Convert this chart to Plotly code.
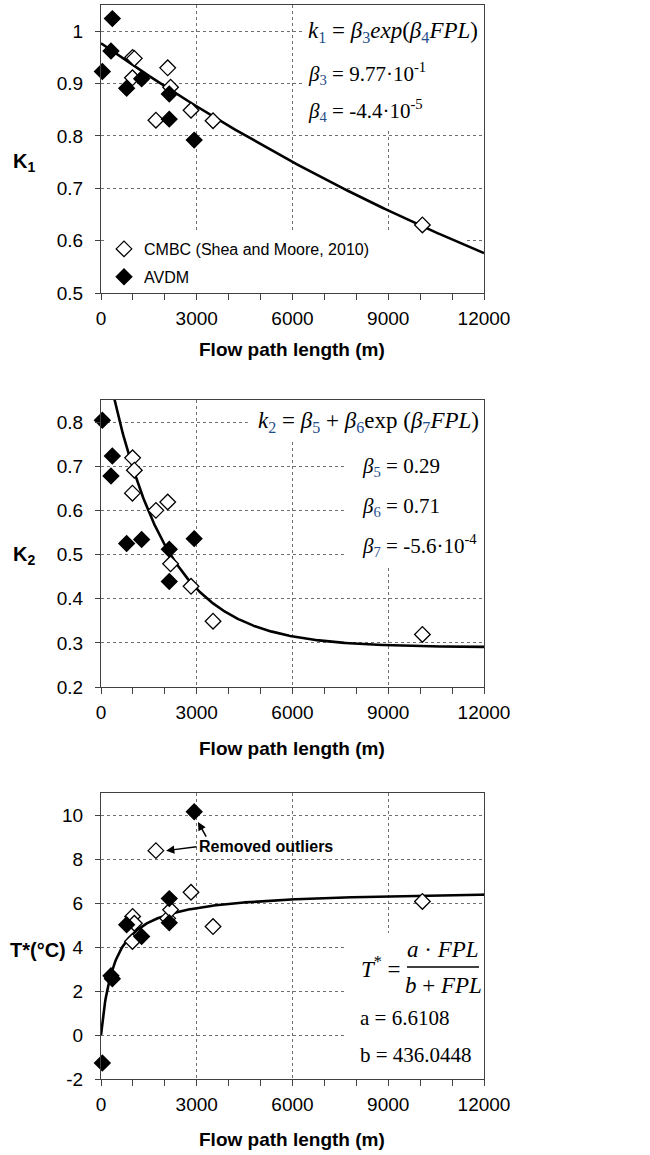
import numpy as np
import plotly.graph_objects as go

W, H = 650, 1155

# ---------------- data ----------------
fpl_cmbc = [990, 1045, 985, 1720, 2090, 2180, 2820, 3510, 10070]
k1_cmbc = [0.950, 0.948, 0.911, 0.830, 0.930, 0.893, 0.849, 0.829, 0.630]
k2_cmbc = [0.719, 0.691, 0.639, 0.600, 0.619, 0.479, 0.428, 0.349, 0.319]
t_cmbc = [5.39, 5.08, 4.25, 8.38, 5.30, 5.69, 6.49, 4.93, 6.07]

fpl_avdm = [42, 355, 313, 803, 1273, 2139, 2139, 2920]
k1_avdm = [0.923, 1.024, 0.962, 0.891, 0.909, 0.880, 0.832, 0.792]
k2_avdm = [0.804, 0.723, 0.678, 0.525, 0.534, 0.512, 0.439, 0.536]
t_avdm = [-1.27, 2.56, 2.69, 5.01, 4.48, 6.20, 5.10, 10.15]

# fitted model parameters (shown on the chart)
beta3, beta4 = 0.977, -4.4e-5
beta5, beta6, beta7 = 0.29, 0.71, -5.6e-4
a_par, b_par = 6.6108, 436.0448

x_ticks = [0, 3000, 6000, 9000, 12000]
x_tick_labels = ["0", "3000", "6000", "9000", "12000"]
k1_ticks = [0.5, 0.6, 0.7, 0.8, 0.9, 1.0]
k1_tick_labels = ["0.5", "0.6", "0.7", "0.8", "0.9", "1"]
k2_ticks = [0.2, 0.3, 0.4, 0.5, 0.6, 0.7, 0.8]
k2_tick_labels = ["0.2", "0.3", "0.4", "0.5", "0.6", "0.7", "0.8"]
t_ticks = [-2, 0, 2, 4, 6, 8, 10]
t_tick_labels = ["-2", "0", "2", "4", "6", "8", "10"]
legend_names = ["CMBC (Shea and Moore, 2010)", "AVDM"]
x_title = "Flow path length (m)"

# ---------------- layout helpers ----------------
def xp(px):
    return px / W

def yp(py):
    return 1 - py / H

X0, X1 = 101, 484
panels = [  # (top px, bottom px, y range, ticks, labels)
    (5, 293, [0.5, 1.05], k1_ticks, k1_tick_labels),
    (400, 687, [0.2, 0.85], k2_ticks, k2_tick_labels),
    (793, 1079, [-2, 11], t_ticks, t_tick_labels),
]

fig = go.Figure()

fpl_curve = np.linspace(0, 12000, 481)
curves = [
    beta3 * np.exp(beta4 * fpl_curve),
    beta5 + beta6 * np.exp(beta7 * fpl_curve),
    a_par * fpl_curve / (b_par + fpl_curve),
]
cmbc_vals = [k1_cmbc, k2_cmbc, t_cmbc]
avdm_vals = [k1_avdm, k2_avdm, t_avdm]

FONT = "Liberation Sans, Arial, sans-serif"
SERIF = "Liberation Serif, Times New Roman, serif"
AXC = "#404040"
GRIDC = "#707070"

for i in range(3):
    sfx = "" if i == 0 else str(i + 1)
    xa, ya = "x" + sfx, "y" + sfx
    fig.add_trace(go.Scatter(
        x=fpl_curve, y=curves[i], mode="lines",
        line=dict(color="black", width=2.6), showlegend=False,
        xaxis=xa, yaxis=ya, hoverinfo="skip"))
    fig.add_trace(go.Scatter(
        x=fpl_cmbc, y=cmbc_vals[i], mode="markers", name=legend_names[0],
        marker=dict(symbol="diamond", size=12, color="white",
                    line=dict(color="black", width=1.3)),
        showlegend=(i == 0), legendgroup="c", cliponaxis=False,
        xaxis=xa, yaxis=ya))
    fig.add_trace(go.Scatter(
        x=fpl_avdm, y=avdm_vals[i], mode="markers", name=legend_names[1],
        marker=dict(symbol="diamond", size=12, color="black",
                    line=dict(color="black", width=1.3)),
        showlegend=(i == 0), legendgroup="a", cliponaxis=False,
        xaxis=xa, yaxis=ya))

layout = dict(
    width=W, height=H, margin=dict(l=0, r=0, t=0, b=0, autoexpand=False),
    paper_bgcolor="white", plot_bgcolor="white",
    font=dict(family=FONT, size=19, color="black"),
    showlegend=True,
    legend=dict(x=xp(104), y=yp(232), xanchor="left", yanchor="top",
                xref="container", yref="container",
                bgcolor="rgba(0,0,0,0)", font=dict(size=16, family=FONT),
                itemwidth=30, tracegroupgap=4),
)
for i, (top, bot, yr, yt, ytl) in enumerate(panels):
    sfx = "" if i == 0 else str(i + 1)
    layout["xaxis" + sfx] = dict(
        domain=[xp(X0), xp(X1)], anchor="y" + sfx, range=[0, 12000],
        tickmode="array", tickvals=x_ticks, ticktext=x_tick_labels,
        ticks="outside", ticklen=6, automargin=False,
        tickcolor=AXC, showline=True, mirror=True, linecolor=AXC, linewidth=1.3,
        showgrid=True, gridcolor=GRIDC, griddash="dot", gridwidth=1,
        zeroline=False, ticklabelstandoff=2,
        tickfont=dict(size=19, family=FONT),
        minor=dict(tick0=0, dtick=1000, ticks="outside", ticklen=6,
                   tickcolor=AXC, showgrid=False),
    )
    layout["yaxis" + sfx] = dict(
        domain=[yp(bot), yp(top)], anchor="x" + sfx, range=yr,
        tickmode="array", tickvals=yt, ticktext=ytl,
        ticks="outside", ticklen=5, automargin=False,
        tickcolor=AXC, showline=True, mirror=True, linecolor=AXC, linewidth=1.3,
        showgrid=True, gridcolor=GRIDC, griddash="dot", gridwidth=1,
        zeroline=False, ticklabelstandoff=8,
        tickfont=dict(size=19, family=FONT),
    )
fig.update_layout(**layout)

# white boxes behind texts (hide gridlines, keep data on top)
boxes = [
    ("x", "y", 6390, 12000, 0.812, 1.05),
    ("x", "y", 130, 11400, 0.5, 0.62),
    ("x2", "y2", 4600, 12000, 0.757, 0.85),
    ("x2", "y2", 7640, 12000, 0.472, 0.757),
    ("x3", "y3", 7700, 12000, -2, 4.64),
]
for xr, yr_, x0, x1, y0, y1 in boxes:
    fig.add_shape(type="rect", xref=xr, yref=yr_, x0=x0, x1=x1, y0=y0, y1=y1,
                  fillcolor="white", line=dict(width=0), layer="between")

def ann(text, x, y, size=21, xanchor="left", family=SERIF, bold=False, color="black"):
    if bold:
        text = "<b>" + text + "</b>"
    fig.add_annotation(text=text, x=xp(x), y=yp(y), xref="paper", yref="paper",
                       showarrow=False, xanchor=xanchor, yanchor="middle",
                       font=dict(size=size, family=family, color=color))

SUBC = "#1f4e8c"
def sub(s):
    return f"<sub><span style='color:{SUBC}'>{s}</span></sub>"

# equations
ann(f"<i>k</i>{sub('1')} = <i>β</i>{sub('3')}<i>exp</i>(<i>β</i>{sub('4')}<i>FPL</i>)", 393, 32, size=23, xanchor="center")
ann(f"<i>β</i>{sub('3')} = 9.77·10<sup>-1</sup>", 306, 73, size=21)
ann(f"<i>β</i>{sub('4')} = -4.4·10<sup>-5</sup>", 306, 110, size=21)

ann(f"<i>k</i>{sub('2')} = <i>β</i>{sub('5')} + <i>β</i>{sub('6')}exp (<i>β</i>{sub('7')}<i>FPL</i>)", 368, 422, size=23, xanchor="center")
ann(f"<i>β</i>{sub('5')} = 0.29", 360, 467, size=21)
ann(f"<i>β</i>{sub('6')} = 0.71", 360, 507, size=21)
ann(f"<i>β</i>{sub('7')} = -5.6·10<sup>-4</sup>", 360, 545, size=21)

ann("<i>T</i><sup>*</sup> =", 403, 967, size=23, xanchor="right")
ann("<i>a</i> · <i>FPL</i>", 443, 949, size=23, xanchor="center")
ann("<i>b</i> + <i>FPL</i>", 443, 985, size=23, xanchor="center")
fig.add_shape(type="line", xref="paper", yref="paper", x0=xp(407), x1=xp(479),
              y0=yp(967), y1=yp(967), line=dict(color="black", width=1.5))
ann("a = 6.6108", 358, 1018, size=21)
ann("b = 436.0448", 358, 1055, size=21)

# axis titles
for ty in [349, 748, 1139]:
    ann(x_title, 292, ty, size=19, xanchor="center", family=FONT, bold=True)
ann("K<sub>1</sub>", 24, 163, size=20, xanchor="center", family=FONT, bold=True)
ann("K<sub>2</sub>", 24, 555, size=20, xanchor="center", family=FONT, bold=True)
ann("T*(°C)", 38, 950, size=20, xanchor="center", family=FONT, bold=True)

# outlier note
ann("Removed outliers", 197, 846, size=16, family=FONT, bold=True)
fig.add_annotation(x=2040, y=8.38, xref="x3", yref="y3", ax=32, ay=-4,
                   axref="pixel", ayref="pixel", text="", showarrow=True,
                   arrowhead=2, arrowsize=1.1, arrowwidth=1.5, arrowcolor="black")
fig.add_annotation(x=3040, y=9.68, xref="x3", yref="y3", ax=9, ay=16,
                   text="", showarrow=True,
                   arrowhead=2, arrowsize=1.1, arrowwidth=1.5, arrowcolor="black")

fig.write_html(
    "out.html",
    config={"responsive": False, "displayModeBar": False},
    post_script="document.body.style.margin='0';document.body.style.overflow='hidden';",
)
